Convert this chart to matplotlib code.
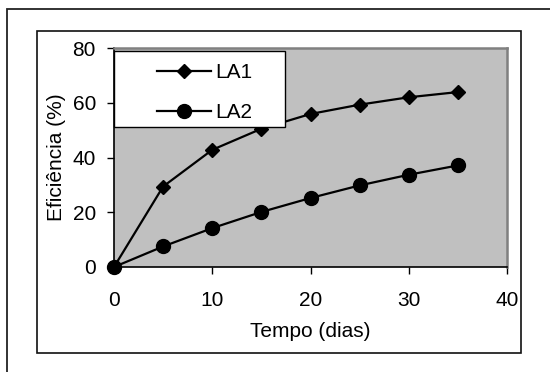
import numpy as np
import matplotlib
matplotlib.use("Agg")
import matplotlib.pyplot as plt
from matplotlib.patches import Rectangle
from matplotlib.lines import Line2D

# data
tempo = [0, 5, 10, 15, 20, 25, 30, 35]
la1 = [0, 29.4, 42.8, 50.5, 55.9, 59.3, 62.0, 63.9]
la2 = [0, 7.5, 14.2, 20.1, 25.2, 29.8, 33.7, 37.1]
series_names = ["LA1", "LA2"]
xticks = [0, 10, 20, 30, 40]
yticks = [0, 20, 40, 60, 80]

plt.rcParams['font.family'] = ['Liberation Sans', 'DejaVu Sans']
plt.rcParams['font.size'] = 15

W, H = 550, 372
fig = plt.figure(figsize=(W / 100, H / 100), dpi=100)

# outer frame (only top/left visible) and chart-area box
fig.add_artist(Rectangle((7 / W, -0.2), 1.2, 0.2 + (1 - 9 / H), transform=fig.transFigure,
                         fill=False, edgecolor='#222222', lw=1.3))
fig.add_artist(Rectangle((37 / W, 1 - 353 / H), (521 - 37) / W, (353 - 31) / H,
                         transform=fig.transFigure, fill=False, edgecolor='#111111', lw=1.2))

ax = fig.add_axes([114 / W, 1 - 267 / H, (507 - 114) / W, (267 - 48) / H])
ax.set_facecolor('#c0c0c0')

ax.plot(tempo, la1, color='black', lw=1.6, marker='D', ms=7.5, clip_on=False, zorder=3)
ax.plot(tempo, la2, color='black', lw=1.6, marker='o', ms=10, clip_on=False, zorder=3)

ax.set_xlim(0, 40)
ax.set_ylim(0, 80)
ax.set_xticks(xticks)
ax.set_yticks(yticks)
ax.tick_params(axis='x', direction='out', length=5, width=1, pad=12)
ax.tick_params(axis='y', direction='out', length=5, width=1, pad=8)

for s in ['left', 'bottom']:
    ax.spines[s].set_color('black')
    ax.spines[s].set_linewidth(1.2)
for s in ['top', 'right']:
    ax.spines[s].set_color('#808080')
    ax.spines[s].set_linewidth(1.8)

ax.set_xlabel("Tempo (dias)", labelpad=9)
ax.set_ylabel("Eficiência (%)", labelpad=5)

# legend box drawn by hand, entries placed inside it
ax.add_patch(Rectangle((0, (267 - 127) / (267 - 48)), (285 - 114) / (507 - 114), (127 - 51) / (267 - 48),
                       transform=ax.transAxes, facecolor='white', edgecolor='black', lw=1.0,
                       zorder=5, clip_on=False))
handles = [Line2D([], [], color='black', lw=1.6, marker='D', ms=7.5),
           Line2D([], [], color='black', lw=1.6, marker='o', ms=10)]
leg = ax.legend(handles, series_names, loc='upper left', frameon=False,
                bbox_to_anchor=((157 - 114) / (507 - 114), (267 - 63) / (267 - 48)),
                borderaxespad=0, borderpad=0, handlelength=2.6, handletextpad=0.2,
                labelspacing=1.0)
leg.set_zorder(6)

fig.savefig("out.png", dpi=100)
